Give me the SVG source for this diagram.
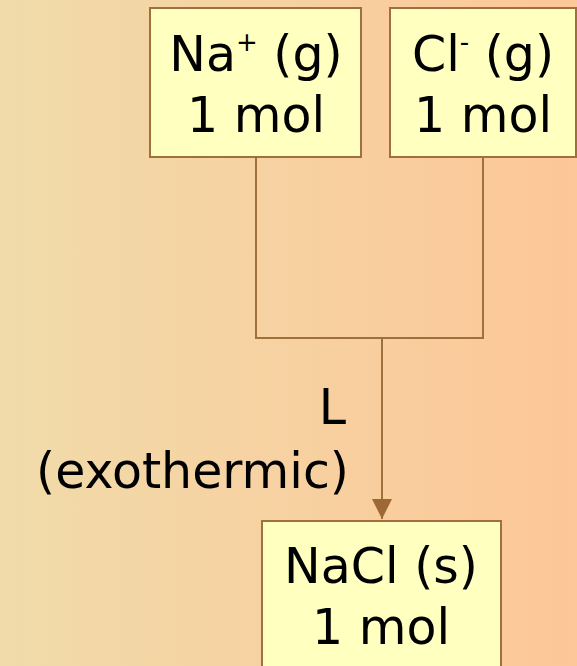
<svg xmlns="http://www.w3.org/2000/svg" width="577" height="666" viewBox="0 0 577 666">
<defs>
<linearGradient id="bg" x1="0" y1="0" x2="1" y2="0">
<stop offset="0" stop-color="#F1DBAA"/>
<stop offset="1" stop-color="#FDC798"/>
</linearGradient>
<marker id="arr" markerWidth="20" markerHeight="20" refX="10" refY="5" orient="auto" markerUnits="userSpaceOnUse" viewBox="0 0 10 10">
<path d="M0,0 L10,5 L0,10 Z" fill="#9E6834"/>
</marker>
<style>
.box{fill:#FFFFC0;stroke:#A0703C;stroke-width:2}
.t{font-family:"DejaVu Sans","Liberation Sans",sans-serif;font-size:49px;fill:#000;text-anchor:middle}
.lbl{font-family:"DejaVu Sans","Liberation Sans",sans-serif;font-size:49px;fill:#000;text-anchor:end}
.c{fill:none;stroke:#A0703C;stroke-width:2}
</style>
</defs>
<rect x="0" y="0" width="577" height="666" fill="url(#bg)"/>
<g id="connectors">
<path class="c" d="M256,157 V338 H483 V157"/>
<path class="c" d="M382,338 V519" marker-end="url(#arr)"/>
</g>
<g id="na">
<rect class="box" x="150" y="8" width="211" height="149"/>
<text class="t" x="256" y="71">Na<tspan font-size="26" dy="-20">+</tspan><tspan dy="20"> (g)</tspan></text>
<text class="t" x="256" y="132">1 mol</text>
</g>
<g id="cl">
<rect class="box" x="390" y="8" width="186" height="149"/>
<text class="t" x="483" y="71">Cl<tspan font-size="26" dy="-20">-</tspan><tspan dy="20"> (g)</tspan></text>
<text class="t" x="483" y="132">1 mol</text>
</g>
<g id="nacl">
<rect class="box" x="262" y="521" width="239" height="150"/>
<text class="t" x="381" y="583">NaCl (s)</text>
<text class="t" x="381" y="644">1 mol</text>
</g>
<g id="label">
<text class="lbl" x="346" y="424">L</text>
<text class="lbl" x="349" y="488">(exothermic)</text>
</g>
</svg>
